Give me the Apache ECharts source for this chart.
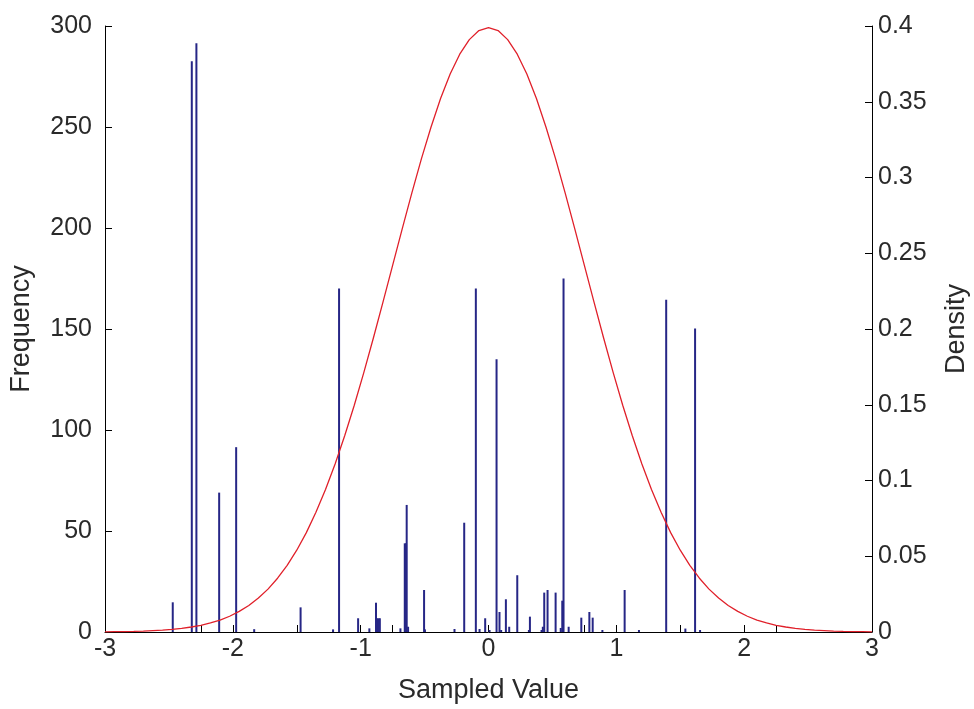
<!DOCTYPE html>
<html>
<head>
<meta charset="utf-8">
<script src="https://cdn.jsdelivr.net/npm/echarts@6/dist/echarts.min.js"></script>
<style>
html,body{margin:0;padding:0;background:#fff;}
#chart{width:974px;height:709px;}
</style>
</head>
<body>
<div id="chart"></div>
<script>
// Histogram of sampled values (bar positions on the Sampled Value axis, and their frequencies)
var barX = [-2.470, -2.321, -2.285, -2.107, -1.974, -1.833, -1.470, -1.216, -1.169, -1.020,
            -0.932, -0.880, -0.872, -0.860, -0.850, -0.689, -0.655, -0.645, -0.640, -0.629,
            -0.504, -0.497, -0.266, -0.190, -0.099, -0.070, -0.026, 0.008, 0.063, 0.086,
            0.099, 0.136, 0.162, 0.225, 0.316, 0.324, 0.415, 0.425, 0.436, 0.462,
            0.525, 0.565, 0.577, 0.587, 0.627, 0.726, 0.789, 0.815, 0.891, 1.065,
            1.177, 1.390, 1.540, 1.616, 1.655];
var barY = [14.7, 282.5, 291.5, 69, 91.5, 1.4, 12.2, 1.3, 170, 6.8,
            1.8, 14.5, 6.8, 6.8, 6.8, 1.8, 43.9, 43.9, 62.9, 2.6,
            20.8, 1.3, 1.5, 54.1, 170, 1.5, 6.8, 1, 135, 9.9,
            1, 16.2, 2.6, 28.1, 1, 7.6, 1, 2.6, 19.5, 20.8,
            19.5, 2, 15.5, 175, 2.6, 7.1, 9.9, 7.1, 1, 20.8,
            1, 164.5, 1.7, 150.3, 1];

// Density curve (drawn against its own x range of -4..4 and the right axis)
var densityX = [-4.0,-3.9,-3.8,-3.7,-3.6,-3.5,-3.4,-3.3,-3.2,-3.1,-3.0,-2.9,-2.8,-2.7,-2.6,-2.5,-2.4,-2.3,-2.2,-2.1,
                -2.0,-1.9,-1.8,-1.7,-1.6,-1.5,-1.4,-1.3,-1.2,-1.1,-1.0,-0.9,-0.8,-0.7,-0.6,-0.5,-0.4,-0.3,-0.2,-0.1,
                0.0,0.1,0.2,0.3,0.4,0.5,0.6,0.7,0.8,0.9,1.0,1.1,1.2,1.3,1.4,1.5,1.6,1.7,1.8,1.9,
                2.0,2.1,2.2,2.3,2.4,2.5,2.6,2.7,2.8,2.9,3.0,3.1,3.2,3.3,3.4,3.5,3.6,3.7,3.8,3.9,4.0];
var densityY = [0.0001,0.0002,0.0003,0.0004,0.0006,0.0009,0.0012,0.0017,0.0024,0.0033,0.0044,0.0060,0.0079,0.0104,0.0136,0.0175,0.0224,0.0283,0.0355,0.0440,
                0.0540,0.0656,0.0790,0.0940,0.1109,0.1295,0.1497,0.1714,0.1942,0.2179,0.2420,0.2661,0.2897,0.3123,0.3332,0.3521,0.3683,0.3814,0.3910,0.3970,
                0.3989,0.3970,0.3910,0.3814,0.3683,0.3521,0.3332,0.3123,0.2897,0.2661,0.2420,0.2179,0.1942,0.1714,0.1497,0.1295,0.1109,0.0940,0.0790,0.0656,
                0.0540,0.0440,0.0355,0.0283,0.0224,0.0175,0.0136,0.0104,0.0079,0.0060,0.0044,0.0033,0.0024,0.0017,0.0012,0.0009,0.0006,0.0004,0.0003,0.0002,0.0001];

var xTickRange = [-3, 3];
var densityXRange = [-4, 4];
var freqRange = [0, 300];
var densityRange = [0, 0.4];

var FONT = "'Liberation Sans', Arial, sans-serif";
var TXT = '#2a2a2a';

var chart = echarts.init(document.getElementById('chart'), null, {renderer: 'canvas'});

var barData = barX.map(function (x, i) { return [x, barY[i]]; });
var lineData = densityX.map(function (x, i) { return [x, densityY[i]]; });

chart.setOption({
  animation: false,
  backgroundColor: '#ffffff',
  grid: {left: 105, right: 102, top: 26, bottom: 77, containLabel: false, outerBoundsMode: 'none'},
  xAxis: [
    {
      type: 'value', min: xTickRange[0], max: xTickRange[1], interval: 1, position: 'bottom',
      name: 'Sampled Value', nameLocation: 'middle', nameGap: 45,
      nameTextStyle: {fontFamily: FONT, fontSize: 27, color: TXT},
      axisLine: {show: true, onZero: false, lineStyle: {color: '#000', width: 1}},
      axisTick: {show: true, inside: true, length: 7, lineStyle: {color: '#000'}},
      axisLabel: {fontFamily: FONT, fontSize: 25, color: TXT, margin: 5},
      splitLine: {show: false}
    },
    {
      type: 'value', min: densityXRange[0], max: densityXRange[1], interval: 1, position: 'bottom',
      axisLine: {show: false, onZero: false},
      axisTick: {show: true, inside: true, length: 7, lineStyle: {color: '#000'}},
      axisLabel: {show: false},
      splitLine: {show: false}
    }
  ],
  yAxis: [
    {
      type: 'value', min: freqRange[0], max: freqRange[1], interval: 50, position: 'left',
      name: 'Frequency', nameLocation: 'middle', nameGap: 70, nameRotate: 90,
      nameTextStyle: {fontFamily: FONT, fontSize: 27, color: TXT},
      axisLine: {show: true, onZero: false, lineStyle: {color: '#000', width: 1}},
      axisTick: {show: true, inside: true, length: 7, lineStyle: {color: '#000'}},
      axisLabel: {fontFamily: FONT, fontSize: 25, color: TXT, margin: 13},
      splitLine: {show: false}
    },
    {
      type: 'value', min: densityRange[0], max: densityRange[1], interval: 0.05, position: 'right',
      name: 'Density', nameLocation: 'middle', nameGap: 71, nameRotate: 90,
      nameTextStyle: {fontFamily: FONT, fontSize: 27, color: TXT},
      axisLine: {show: true, onZero: false, lineStyle: {color: '#000', width: 1}},
      axisTick: {show: true, inside: true, length: 7, lineStyle: {color: '#000'}},
      axisLabel: {fontFamily: FONT, fontSize: 25, color: TXT, margin: 6},
      splitLine: {show: false}
    }
  ],
  series: [
    {
      type: 'bar', xAxisIndex: 0, yAxisIndex: 0, data: barData,
      barWidth: 2, barGap: '-100%',
      itemStyle: {color: '#262686'},
      z: 2
    },
    {
      type: 'line', xAxisIndex: 1, yAxisIndex: 1, data: lineData,
      showSymbol: false, symbol: 'none',
      lineStyle: {color: '#e0202a', width: 1.3},
      z: 3
    }
  ]
});
</script>
</body>
</html>
